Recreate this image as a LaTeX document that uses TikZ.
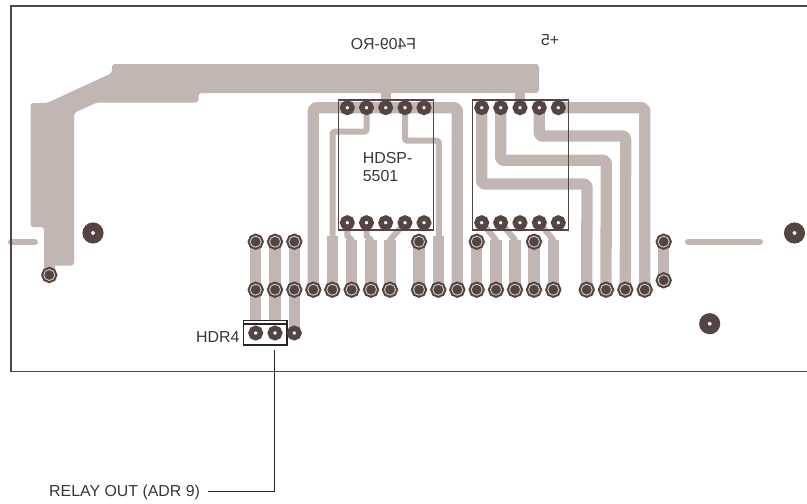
\documentclass[tikz,border=0pt]{standalone}
\usepackage{fontspec}
\setmainfont{Liberation Sans}
\definecolor{trace}{HTML}{C1B6B2}
\definecolor{padc}{HTML}{544542}
\definecolor{inkc}{HTML}{3A3636}
\tikzset{
  fat/.style={draw=trace,line width=11.3pt,line join=round,rounded corners=3pt},
  thin/.style={draw=trace,line width=6pt,line join=round,line cap=round},
  stub/.style={draw=trace,line width=6pt,line cap=round},
  ringpad/.style={circle,inner sep=0pt,minimum size=11pt,draw=padc,fill=padc,double=trace!70!white,double distance=0.9pt,line width=2.1pt},
  viapad/.style={circle,inner sep=0pt,minimum size=9.4pt,draw=padc,fill=white,line width=5.4pt},
  mount/.style={circle,inner sep=0pt,minimum size=12.5pt,draw=padc,fill=white,line width=8.5pt},
  label/.style={font=\fontsize{15.9}{18}\selectfont,text=inkc,inner sep=0pt},
  mirror/.style={label,xscale=-1},
  chip/.style={draw=padc,line width=1.3pt},
  leader/.style={draw=black!85,line width=1.1pt}
}
\begin{document}
\begin{tikzpicture}[x=1pt,y=-1pt]
\useasboundingbox (0,0) rectangle (807,504);
% coordinates
\foreach \n/\x in {a/347.3,b/366.5,c/385.7,d/405,e/424,f/481.7,g/500.7,h/520,i/539.3,j/558.3}{
  \coordinate (t\n) at (\x,107.7);
  \coordinate (b\n) at (\x,222.7);
}
\foreach \n/\x in {1/255.7,2/275,3/294.3,4/313.3,5/332.3,6/351.7,7/371,8/390,9/419,10/438.3,11/457.3,12/476.7,13/496,14/515,15/534,16/553.3,17/586.7,18/606,19/625.3,20/644.7}{
  \coordinate (m\n) at (\x,289.7);
}
\foreach \n/\x in {1/255.7,2/275,3/294.3,9/419,12/476.7,15/534,21/663.7}{
  \coordinate (u\n) at (\x,241.7);
}
\coordinate (m21) at (663.7,280.3);
\coordinate (h1) at (255.7,333);
\coordinate (h2) at (275,333);
\coordinate (h3) at (294.3,333);
\coordinate (h1e) at (255.7,320);
\coordinate (h2e) at (275,320);
\coordinate (gnd) at (49.3,275);
% power plane
\fill[trace,rounded corners=3pt] (112,73) -- (112,64) -- (539,64) -- (539,93) -- (198.5,93) -- (198.5,102.5) -- (97,102.5) -- (74,113) -- (74,265.5) -- (44,265.5) -- (44,227) -- (30.5,227) -- (30.5,103) -- (47,103) -- cycle;
\draw[fat] (gnd) -- (49.3,262);
\draw[trace,line width=10pt] (tc) -- (385.7,90);
\draw[trace,line width=10pt] (th) -- (520,90);
% stubs
\draw[stub] (11,242) -- (35,242);
\draw[stub] (688,241.7) -- (760,241.7);
% straight traces
\foreach \p/\q in {u1/m1,u2/m2,u3/m3,u9/m9,u12/m12,u15/m15,u21/m21}{\draw[fat] (\p) -- (\q);}
\draw[fat] (h1e) -- (u1);
\draw[fat] (h2e) -- (u2);
\draw[fat] (h3) -- (u3);
% long traces
\draw[fat] (m4) |- (457.3,107.7) -- (m11);
\draw[fat] (tf) |- (587,184) -- (m17);
\draw[fat] (tg) |- (606.3,160.3) -- (m18);
\draw[fat] (ti) |- (625.7,136) -- (m19);
\draw[fat] (tj) -| (m20);
% thin + fat traces
\draw[thin,rounded corners=2pt] (tb) |- (332.5,131.7) -- (332.5,240);
\draw[fat] (332.3,236) -- (m5);
\draw[thin,rounded corners=2pt] (td) |- (438.8,140.7) -- (438.8,240);
\draw[fat] (438.3,236) -- (m10);
\foreach \s/\t/\m in {ba/351.7/m6,bb/371/m7,bd/390/m8,bf/496/m13,bg/515/m14,bi/553.3/m16}{
  \draw[fat] (\t,240) -- (\m);
}
\draw[thin] (ba) -- (347.3,236) -- (351.7,240);
\draw[thin] (bb) -- (366.5,236) -- (371,240);
\draw[thin] (bd) -- (390,240);
\draw[thin] (bf) -- (496,240);
\draw[thin] (bg) -- (515,240);
\draw[thin] (bi) -- (553.3,240);
% frame
\draw[padc,line width=1.3pt] (807,6) -- (11,6) -- (11,371.3) -- (807,371.3);
% chips
\draw[chip] (338.3,100) rectangle (433.7,230);
\draw[chip] (472.7,100) rectangle (568.3,230);
% pads
\foreach \n in {a,b,c,d,e,f,g,h,i,j}{
  \node[viapad] (padt\n) at (t\n) {};
  \node[viapad] (padb\n) at (b\n) {};
}
\foreach \n in {1,...,21}{\node[ringpad] (padm\n) at (m\n) {};}
\foreach \n in {1,2,3,9,12,15,21}{\node[ringpad] (padu\n) at (u\n) {};}
\node[ringpad] (padg) at (gnd) {};
\node[mount] (m1a) at (93,233) {};
\node[mount] (m2a) at (794.5,233) {};
\node[mount] (m3a) at (709.7,323.7) {};
% header
\draw[leader] (243.3,320.3) rectangle (287,345);
\draw[leader] (243.3,324) -- (287,324);
\node[viapad] (padh1) at (h1) {};
\node[viapad] (padh2) at (h2) {};
\node[viapad] (padh3) at (h3) {};
% labels
\node[label,anchor=base west] (hdr) at (196,342.5) {HDR4};
\node[label,anchor=base west] (hdsp) at (362.7,163) {HDSP-};
\node[label,anchor=base west] (hdsq) at (362.7,181) {5501};
\node[mirror,anchor=base] (fo) at (383.5,49) {F409-RO};
\node[mirror,anchor=base] (pf) at (550,45) {+5};
\node[label,anchor=base west] (relay) at (49,496) {RELAY OUT (ADR 9)};
\coordinate (rel) at (208,491.3);
\coordinate (hd) at (274.3,350);
\draw[leader] (rel) -| (hd);
\end{tikzpicture}
\end{document}
